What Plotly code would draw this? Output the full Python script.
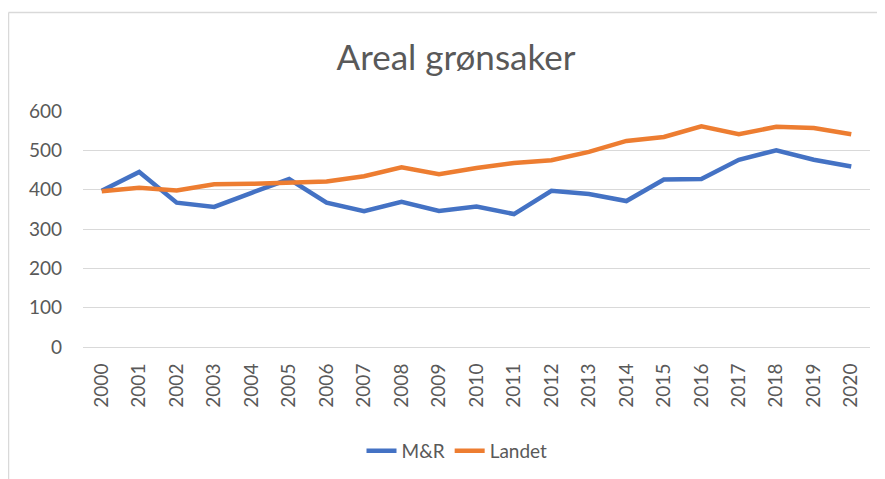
import plotly.graph_objects as go

years = [str(y) for y in range(2000, 2021)]
mr = [397, 445, 367, 356, 392, 427, 367, 345, 369, 346, 357, 338, 397, 389, 371, 426, 427, 476, 500, 476, 459]
landet = [396, 405, 398, 414, 415, 419, 421, 434, 457, 439, 455, 468, 475, 496, 524, 534, 561, 541, 560, 557, 541]
yticks = [0, 100, 200, 300, 400, 500, 600]

FONT = "Lato"
TXT = "#595959"
GRID = "#D9D9D9"

# page has an 8px body margin; figure is sized/offset to compensate
W, H = 877, 471
L, T, PW, PH = 75, 103, 787, 236

fig = go.Figure()
fig.add_trace(go.Scatter(x=years, y=mr, name="M&R", mode="lines",
                         line=dict(color="#4472C4", width=4.5)))
fig.add_trace(go.Scatter(x=years, y=landet, name="Landet", mode="lines",
                         line=dict(color="#ED7D31", width=4.5)))


def px_x(p):
    return (p - L) / PW


def px_y(p):
    return (T + PH - p) / PH


fig.update_layout(
    width=W, height=H,
    margin=dict(l=L, r=W - L - PW, t=T, b=H - T - PH, autoexpand=False),
    paper_bgcolor="white", plot_bgcolor="white",
    font=dict(family=FONT, color=TXT, size=19),
    title=dict(text="Areal grønsaker", x=448 / W, xanchor="center",
               y=1 - 50 / H, yanchor="middle",
               font=dict(family=FONT, size=35, color=TXT)),
    showlegend=True,
    legend=dict(orientation="h", x=px_x(449), xanchor="center",
                y=px_y(443), yanchor="middle",
                font=dict(family=FONT, size=19, color=TXT),
                bgcolor="rgba(0,0,0,0)"),
    xaxis=dict(type="category", range=[-0.5, 20.5], tickangle=-90,
               showgrid=False, showline=True, linecolor=GRID, linewidth=1,
               ticks="", ticklabelstandoff=8, fixedrange=True),
    yaxis=dict(range=[0, 600], tickvals=yticks, showgrid=True, gridcolor=GRID,
               gridwidth=1, zeroline=False, showline=False, ticks="",
               ticklabelstandoff=20, fixedrange=True),
    shapes=[
        dict(type="line", xref="paper", yref="paper",
             x0=px_x(0.5), x1=px_x(W + 2), y0=px_y(4.5), y1=px_y(4.5),
             line=dict(color=GRID, width=1.5)),
        dict(type="line", xref="paper", yref="paper",
             x0=px_x(0.5), x1=px_x(0.5), y0=px_y(4.5), y1=px_y(H + 2),
             line=dict(color=GRID, width=1.5)),
    ],
)

fig.write_html("out.html")
